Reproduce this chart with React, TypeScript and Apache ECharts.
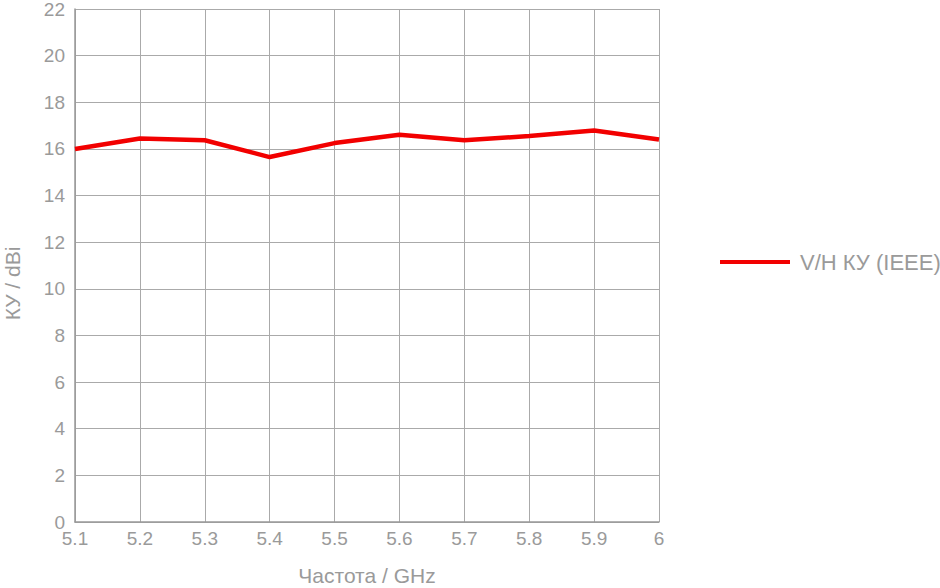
import React, { useEffect, useRef } from "react";
import * as echarts from "echarts";

const frequencies = ["5.1", "5.2", "5.3", "5.4", "5.5", "5.6", "5.7", "5.8", "5.9", "6"];
const gainValues = [16.0, 16.45, 16.37, 15.65, 16.25, 16.61, 16.37, 16.55, 16.79, 16.4];
const seriesName = "V/H КУ (IEEE)";
const xName = "Частота / GHz";
const yName = "КУ / dBi";

export default function App() {
  const ref = useRef<HTMLDivElement>(null);
  useEffect(() => {
    if (!ref.current) return;
    const chart = echarts.init(ref.current, null, { renderer: "svg" });
    const font = "'Liberation Sans', Arial, sans-serif";
    const grey = "#9a9a9a";
    chart.setOption({
      animation: false,
      backgroundColor: "#fff",
      textStyle: { fontFamily: font },
      grid: {
        left: 75,
        right: 281,
        top: 9,
        bottom: 66,
        containLabel: false,
        outerBoundsMode: "none",
      },
      legend: {
        data: [seriesName],
        left: 715,
        top: 246,
        icon: "rect",
        itemWidth: 70,
        itemHeight: 4,
        textStyle: {
          color: grey,
          fontSize: 22,
          fontFamily: font,
          padding: [0, 0, 0, 5],
        },
      },
      xAxis: {
        type: "category",
        data: frequencies,
        boundaryGap: false,
        name: xName,
        nameLocation: "middle",
        nameGap: 43,
        nameTextStyle: { color: grey, fontSize: 21, fontFamily: font },
        axisLine: { lineStyle: { color: "#999", width: 1.5 } },
        axisTick: { show: false },
        axisLabel: { color: grey, fontSize: 19, margin: 7, fontFamily: font },
        splitLine: { show: true, lineStyle: { color: "#aaa", width: 1 } },
      },
      yAxis: {
        type: "value",
        min: 0,
        max: 22,
        interval: 2,
        name: yName,
        nameLocation: "middle",
        nameGap: 52,
        nameTextStyle: {
          color: grey,
          fontSize: 21,
          fontFamily: font,
          padding: [0, 36, 0, 0],
        },
        axisLine: { show: true, lineStyle: { color: "#999", width: 1.5 } },
        axisTick: { show: false },
        axisLabel: { color: grey, fontSize: 19, margin: 10, fontFamily: font },
        splitLine: { show: true, lineStyle: { color: "#aaa", width: 1 } },
      },
      series: [
        {
          name: seriesName,
          type: "line",
          data: gainValues,
          symbol: "none",
          color: "#f20000",
          lineStyle: { color: "#f20000", width: 4.5 },
        },
      ],
    });
    return () => chart.dispose();
  }, []);
  return (
    <div
      ref={ref}
      style={{ position: "fixed", left: 0, top: 0, width: 940, height: 588 }}
    />
  );
}
